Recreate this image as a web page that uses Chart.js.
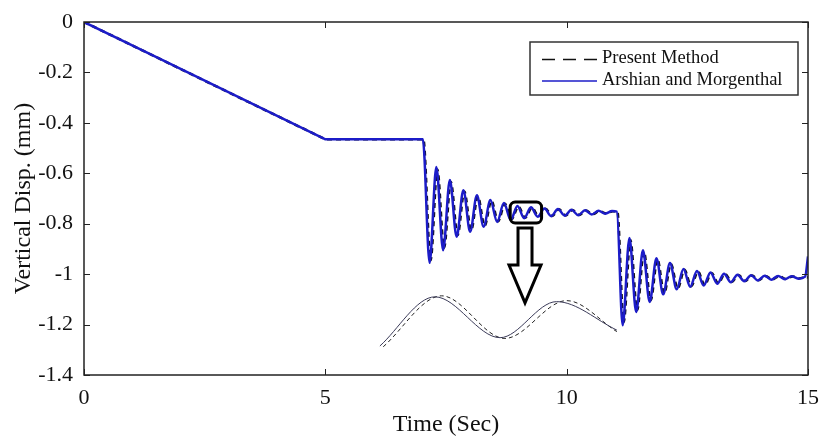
<!DOCTYPE html>
<html>
<head>
<meta charset="utf-8">
<title>Vertical displacement vs time</title>
<script src="https://cdn.jsdelivr.net/npm/chart.js@4.4.1/dist/chart.umd.min.js"></script>
<style>
    html, body { margin: 0; padding: 0; background: #fff; }
    #wrap { width: 822px; height: 440px; }
</style>
</head>
<body>
<div id="wrap"><canvas id="dispChart" width="822" height="440"></canvas></div>
<script>
// Arshian and Morgenthal (blue solid)
const timeArshian = [0, 4.95, 5.0, 7.02,
    7.16, 7.30, 7.44, 7.58, 7.72, 7.86, 8.00, 8.14, 8.28, 8.42, 8.56, 8.70, 8.84, 8.98,
    9.12, 9.26, 9.40, 9.54, 9.68, 9.82, 9.96, 10.10, 10.24, 10.38, 10.52, 10.66, 10.80, 10.94,
    11.04,
    11.16, 11.30, 11.44, 11.58, 11.72, 11.86, 12.00, 12.14, 12.28, 12.42, 12.56,
    12.70, 12.84, 12.98, 13.12, 13.26, 13.40, 13.54, 13.68, 13.82, 13.96, 14.10, 14.24, 14.38, 14.52, 14.66, 14.80, 14.94,
    15.0];
const dispArshian = [0, -0.4604, -0.465, -0.465,
    -0.955, -0.575, -0.905, -0.627, -0.852, -0.667, -0.832, -0.687, -0.812, -0.706, -0.793, -0.718, -0.785, -0.730,
    -0.778, -0.735, -0.772, -0.740, -0.770, -0.742, -0.768, -0.745, -0.766, -0.747, -0.763, -0.749, -0.760, -0.750,
    -0.752,
    -1.203, -0.857, -1.150, -0.905, -1.110, -0.937, -1.080, -0.956, -1.060, -0.980, -1.050,
    -0.988, -1.045, -0.993, -1.038, -0.998, -1.032, -1.002, -1.028, -1.004, -1.025, -1.006, -1.022, -1.007, -1.020, -1.008, -1.018, -1.010,
    -0.930];

// Present Method (black dashed)
const timePresent = [0, 4.95, 5.0, 7.03,
    7.18, 7.32, 7.46, 7.60, 7.74, 7.88, 8.02, 8.16, 8.30, 8.44, 8.58, 8.72, 8.86, 9.00,
    9.14, 9.28, 9.42, 9.56, 9.70, 9.84, 9.98, 10.12, 10.26, 10.40, 10.54, 10.68, 10.82, 10.96,
    11.05,
    11.18, 11.32, 11.46, 11.60, 11.74, 11.88, 12.02, 12.16, 12.30, 12.44, 12.58,
    12.72, 12.86, 13.00, 13.14, 13.28, 13.42, 13.56, 13.70, 13.84, 13.98, 14.12, 14.26, 14.40, 14.54, 14.68, 14.82, 14.96,
    15.0];
const dispPresent = [0, -0.4604, -0.465, -0.465,
    -0.945, -0.585, -0.895, -0.635, -0.845, -0.672, -0.826, -0.692, -0.808, -0.709, -0.790, -0.721, -0.782, -0.732,
    -0.776, -0.737, -0.771, -0.741, -0.769, -0.743, -0.767, -0.746, -0.765, -0.748, -0.762, -0.750, -0.759, -0.751,
    -0.752,
    -1.190, -0.865, -1.142, -0.912, -1.104, -0.941, -1.076, -0.960, -1.057, -0.983, -1.048,
    -0.990, -1.043, -0.995, -1.036, -0.999, -1.031, -1.003, -1.027, -1.005, -1.024, -1.007, -1.021, -1.008, -1.019, -1.009, -1.017, -1.011,
    -1.013];

// magnified inset (drawn in plot units below the curves)
const insetTimeSolid = [6.13, 7.27, 8.62, 9.79, 11.04];
const insetDispSolid = [-1.285, -1.090, -1.252, -1.109, -1.222];
const insetTimeDashed = [6.20, 7.41, 8.72, 10.00, 11.04];
const insetDispDashed = [-1.288, -1.086, -1.255, -1.105, -1.228];

const xTicks = [0, 5, 10, 15];
const yTicks = [0, -0.2, -0.4, -0.6, -0.8, -1, -1.2, -1.4];

const seriesLabels = ['Present Method', 'Arshian and Morgenthal'];
const xTitle = 'Time (Sec)';
const yTitle = 'Vertical Disp. (mm)';

const SERIF = "'Liberation Serif', 'DejaVu Serif', serif";
const BLUE = '#1c1cc8';

function toPoints(xs, ys) {
    return xs.map((x, i) => ({x: x, y: ys[i]}));
}

/**
 * Box frame, inward ticks, legend and the zoom marker/arrow
 */
const decorPlugin = {
    id: 'decor',
    afterDatasetsDraw(chart) {
        const ctx = chart.ctx;
        const {left, right, top, bottom} = chart.chartArea;
        const xs = chart.scales.x;
        const ys = chart.scales.y;

        ctx.save();

        // zoom box around the small wiggles
        const bx1 = xs.getPixelForValue(8.83), bx2 = xs.getPixelForValue(9.48);
        const by1 = ys.getPixelForValue(-0.714), by2 = ys.getPixelForValue(-0.797);
        ctx.strokeStyle = '#000';
        ctx.lineWidth = 3;
        ctx.beginPath();
        ctx.roundRect(bx1, by1, bx2 - bx1, by2 - by1, 5);
        ctx.stroke();

        // hollow arrow pointing down to the inset
        const ax = xs.getPixelForValue(9.137);
        const sTop = ys.getPixelForValue(-0.817);
        const hTop = ys.getPixelForValue(-0.964);
        const tip = ys.getPixelForValue(-1.114);
        ctx.beginPath();
        ctx.moveTo(ax - 7, sTop);
        ctx.lineTo(ax + 7, sTop);
        ctx.lineTo(ax + 7, hTop);
        ctx.lineTo(ax + 16, hTop);
        ctx.lineTo(ax, tip);
        ctx.lineTo(ax - 16, hTop);
        ctx.lineTo(ax - 7, hTop);
        ctx.closePath();
        ctx.fillStyle = '#fff';
        ctx.fill();
        ctx.lineWidth = 3;
        ctx.lineJoin = 'miter';
        ctx.stroke();

        // frame
        ctx.strokeStyle = '#222';
        ctx.lineWidth = 1.5;
        ctx.strokeRect(left, top, right - left, bottom - top);

        // inward ticks on all four sides
        ctx.lineWidth = 1;
        ctx.beginPath();
        xTicks.forEach(v => {
            const px = Math.round(xs.getPixelForValue(v)) + 0.5;
            ctx.moveTo(px, bottom); ctx.lineTo(px, bottom - 6);
            ctx.moveTo(px, top); ctx.lineTo(px, top + 6);
        });
        yTicks.forEach(v => {
            const py = Math.round(ys.getPixelForValue(v)) + 0.5;
            ctx.moveTo(left, py); ctx.lineTo(left + 6, py);
            ctx.moveTo(right, py); ctx.lineTo(right - 6, py);
        });
        ctx.stroke();

        // legend
        const lx = 530, ly = 42, lw = 268, lh = 53;
        ctx.fillStyle = '#fff';
        ctx.fillRect(lx, ly, lw, lh);
        ctx.strokeStyle = '#333';
        ctx.lineWidth = 1.5;
        ctx.strokeRect(lx, ly, lw, lh);

        const entries = chart.data.datasets.filter(d => d.inLegend);
        ctx.font = '18.5px ' + SERIF;
        ctx.textBaseline = 'middle';
        ctx.textAlign = 'left';
        entries.forEach((d, i) => {
            const rowY = 58.5 + i * 21.5;
            ctx.strokeStyle = d.borderColor;
            ctx.lineWidth = 1.5;
            ctx.setLineDash(d.borderDash ? [13, 8] : []);
            ctx.beginPath();
            ctx.moveTo(542, rowY + 1);
            ctx.lineTo(597, rowY + 1);
            ctx.stroke();
            ctx.setLineDash([]);
            ctx.fillStyle = '#111';
            ctx.fillText(d.label, 602, rowY);
        });

        ctx.restore();
    }
};

const ctx = document.getElementById('dispChart').getContext('2d');

const dispChart = new Chart(ctx, {
    type: 'line',
    data: {
        datasets: [
            {
                label: seriesLabels[0],
                inLegend: true,
                data: toPoints(timePresent, dispPresent),
                borderColor: '#111',
                borderWidth: 2.5,
                borderDash: [5, 4],
                cubicInterpolationMode: 'monotone',
                pointRadius: 0,
                fill: false,
                order: 2
            },
            {
                label: seriesLabels[1],
                inLegend: true,
                data: toPoints(timeArshian, dispArshian),
                borderColor: BLUE,
                borderWidth: 2.5,
                cubicInterpolationMode: 'monotone',
                pointRadius: 0,
                fill: false,
                order: 1
            },
            {
                label: 'inset solid',
                data: toPoints(insetTimeSolid, insetDispSolid),
                borderColor: '#3a3a58',
                borderWidth: 1,
                cubicInterpolationMode: 'monotone',
                pointRadius: 0,
                fill: false,
                order: 3
            },
            {
                label: 'inset dashed',
                data: toPoints(insetTimeDashed, insetDispDashed),
                borderColor: '#222',
                borderWidth: 1,
                borderDash: [4, 3],
                cubicInterpolationMode: 'monotone',
                pointRadius: 0,
                fill: false,
                order: 3
            }
        ]
    },
    options: {
        responsive: false,
        animation: false,
        devicePixelRatio: 1,
        layout: {
            padding: {top: 22, right: 14, left: 0, bottom: 0}
        },
        plugins: {
            legend: {display: false},
            tooltip: {enabled: false}
        },
        scales: {
            x: {
                type: 'linear',
                min: 0,
                max: 15,
                afterFit(scale) { scale.height = 65; },
                afterBuildTicks(scale) { scale.ticks = xTicks.map(v => ({value: v})); },
                grid: {display: false},
                border: {display: false},
                ticks: {
                    padding: 2,
                    color: '#111',
                    maxRotation: 0,
                    font: {family: SERIF, size: 22},
                    callback: v => String(v)
                },
                title: {
                    display: true,
                    text: xTitle,
                    color: '#111',
                    font: {family: SERIF, size: 24},
                    padding: {top: 0, bottom: 1}
                }
            },
            y: {
                type: 'linear',
                min: -1.4,
                max: 0,
                afterFit(scale) { scale.width = 84; },
                afterBuildTicks(scale) { scale.ticks = yTicks.map(v => ({value: v})); },
                grid: {display: false},
                border: {display: false},
                ticks: {
                    padding: 3,
                    color: '#111',
                    font: {family: SERIF, size: 22},
                    callback: v => String(+v.toFixed(1))
                },
                title: {
                    display: true,
                    text: yTitle,
                    color: '#111',
                    font: {family: SERIF, size: 24},
                    padding: {top: 9, bottom: 0}
                }
            }
        }
    },
    plugins: [decorPlugin]
});
</script>
</body>
</html>
